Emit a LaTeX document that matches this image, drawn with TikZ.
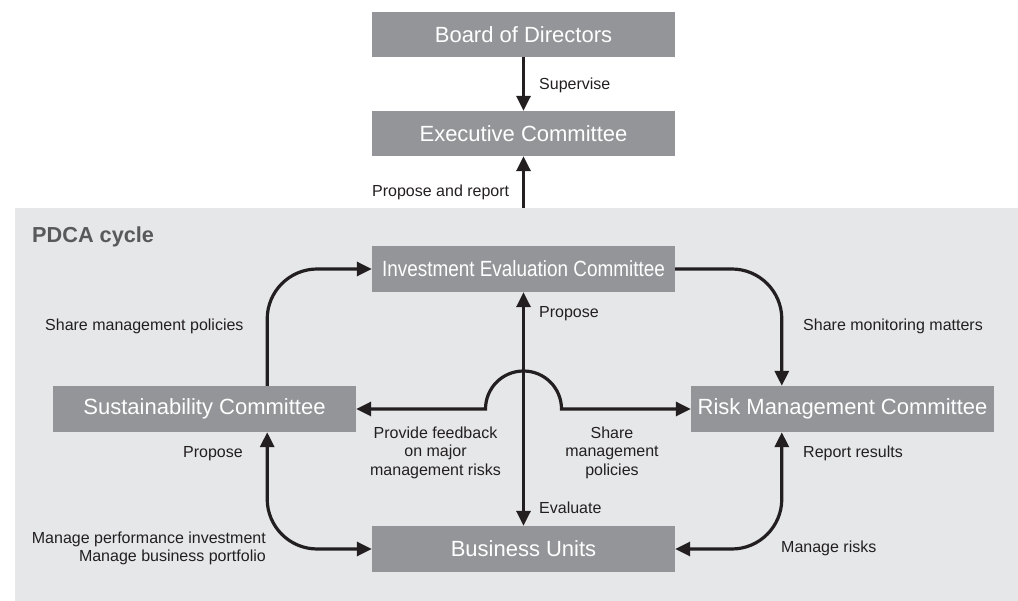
\documentclass[tikz,border=0pt]{standalone}
\usepackage{fontspec}
\setmainfont{Liberation Sans}
\usepackage{graphicx}
\usetikzlibrary{arrows.meta,calc}
\definecolor{boxgray}{HTML}{939598}
\definecolor{panelgray}{HTML}{E6E7E8}
\definecolor{ink}{HTML}{231F20}
\definecolor{titlegray}{HTML}{58595B}

\begin{document}
\begin{tikzpicture}[x=1pt,y=-1pt,
  unit/.style={fill=boxgray, text=white, minimum width=303pt, minimum height=46pt,
    inner sep=0pt, font=\fontsize{22}{26}\selectfont},
  lbl/.style={text=ink, inner sep=0pt, font=\fontsize{16}{18.5}\selectfont},
  tip/.tip={Triangle[length=15pt,width=14pt]},
  link/.style={draw=ink, line width=3.2pt, -tip},
  both/.style={draw=ink, line width=3.2pt, tip-tip},
]
\useasboundingbox (0,0) rectangle (1018,601);

% PDCA panel
\node[fill=panelgray, inner sep=0pt, minimum width=1003pt, minimum height=393pt,
  anchor=north west] (pdca) at (15,208) {};
\node[anchor=base west, inner sep=0pt, text=titlegray,
  font=\bfseries\fontsize{21.7}{24}\selectfont] (pdcatitle) at (32,243) {PDCA cycle};

% committees and units
\node[unit, minimum height=45pt] (board) at (523.5,34.5) {Board of Directors};
\node[unit, minimum height=45pt] (exec) at (523.5,133.5) {Executive Committee};
\node[unit] (inv) at (523.5,269) {\scalebox{0.86}[1]{Investment Evaluation Committee}};
\node[unit] (sust) at (204.5,409) {Sustainability Committee};
\node[unit] (risk) at (842.5,409) {Risk Management Committee};
\node[unit] (bu) at (523.5,549) {Business Units};

% attachment points of the rounded connectors
\coordinate (sTop) at ($(sust.north east)+(-89,0)$);
\coordinate (sBot) at ($(sust.south east)+(-89,0)$);
\coordinate (rTop) at ($(risk.north west)+(91,0)$);
\coordinate (rBot) at ($(risk.south west)+(91,0)$);
\coordinate (hopL) at ($(inv.south |- sust.east)+(-38,0)$);

% connectors
\draw[link] (board) -- (exec);
\draw[link] (pdca.north -| exec.south) -- (exec.south);
\draw[link, rounded corners=50pt] (sTop) |- (inv.west);
\draw[link, rounded corners=50pt] (inv.east) -| (rTop);
\draw[both] (inv.south) -- (bu.north);
\draw[both, rounded corners=50pt] (sBot) |- (bu.west);
\draw[both, rounded corners=50pt] (bu.east) -| (rBot);
\draw[both] (sust.east) -- (hopL) arc[start angle=180, end angle=0, radius=38pt] -- (risk.west);

% labels
\node[lbl, anchor=base west] (lsup) at (539,90) {Supervise};
\node[lbl, anchor=base west] (lpar) at (372,197) {Propose and report};
\node[lbl, anchor=base west] (lsmp) at (45,331) {Share management policies};
\node[lbl, anchor=base west] (lsmm) at (803,331) {Share monitoring matters};
\node[lbl, anchor=base west] (lpi) at (539,318) {Propose};
\node[lbl, anchor=north, align=center] (lfb) at (435.5,426.3)
  {Provide feedback\\on major\\management risks};
\node[lbl, anchor=north, align=center] (lsh) at (612,426.3)
  {Share\\management\\policies};
\node[lbl, anchor=base east] (lps) at (243,458) {Propose};
\node[lbl, anchor=base west] (lrr) at (803,458) {Report results};
\node[lbl, anchor=base west] (lev) at (539,514) {Evaluate};
\node[lbl, anchor=north east, align=right] (lmp) at (266,531.3)
  {Manage performance investment\\Manage business portfolio};
\node[lbl, anchor=base west] (lmr) at (781,552) {Manage risks};
\end{tikzpicture}
\end{document}
